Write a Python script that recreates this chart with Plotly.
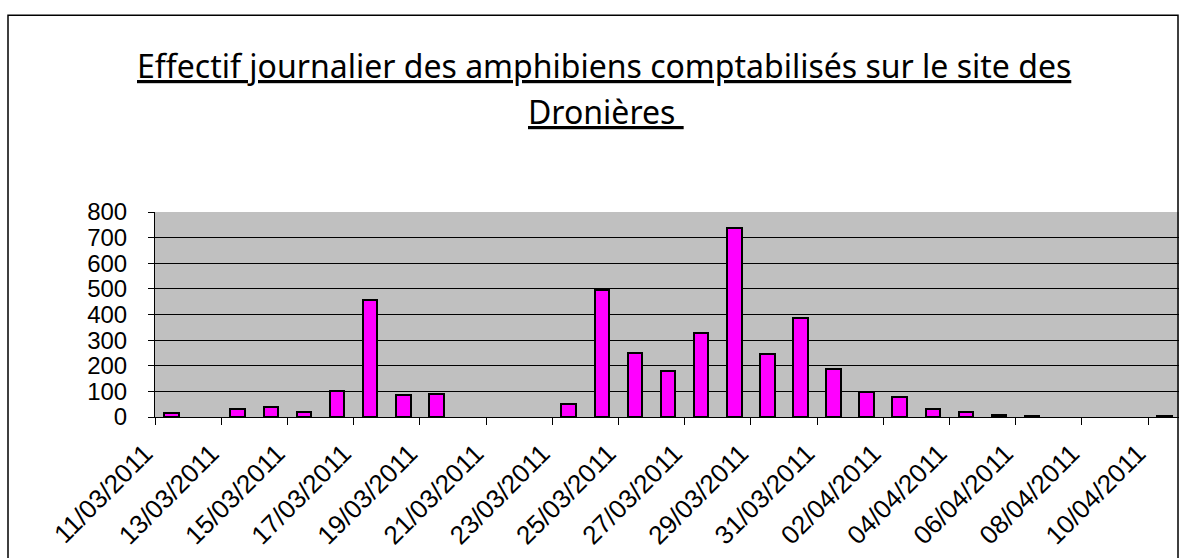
import pandas as pd
import plotly.graph_objects as go

# ---- data ----
dates = ["11/03/2011", "12/03/2011", "13/03/2011", "14/03/2011", "15/03/2011",
         "16/03/2011", "17/03/2011", "18/03/2011", "19/03/2011", "20/03/2011",
         "21/03/2011", "22/03/2011", "23/03/2011", "24/03/2011", "25/03/2011",
         "26/03/2011", "27/03/2011", "28/03/2011", "29/03/2011", "30/03/2011",
         "31/03/2011", "01/04/2011", "02/04/2011", "03/04/2011", "04/04/2011",
         "05/04/2011", "06/04/2011", "07/04/2011", "08/04/2011", "09/04/2011",
         "10/04/2011"]
effectif = [15, 0, 30, 40, 20, 103, 458, 84, 90, 0,
            0, 0, 52, 497, 249, 181, 328, 736, 245, 385,
            188, 98, 80, 33, 20, 8, 5, 0, 0, 0,
            4]
title_line1 = "Effectif journalier des amphibiens comptabilisés sur le site des"
title_line2 = "Dronières\u00a0"

# ---- build ----
x = pd.to_datetime(pd.Series(dates), format="%d/%m/%Y")
half_day = pd.Timedelta(hours=12)
tick_pos = [d - half_day for d in x[::2]]
tick_txt = dates[::2]

W, H = 1179, 558
L, R, T, B = 155, 0, 211.5, 140.7
day_px = 33.1
span_days = (W - L - R) / day_px

fig = go.Figure()
fig.add_trace(go.Bar(
    x=x, y=effectif,
    width=0.44 * 86400000,
    marker=dict(color="#FF00FF",
                line=dict(color="black", width=[2 if v > 0 else 0 for v in effectif])),
    hoverinfo="x+y",
))

fig.update_layout(
    width=W, height=H,
    margin=dict(l=L, r=R, t=T, b=B, pad=0),
    paper_bgcolor="white",
    plot_bgcolor="#C0C0C0",
    showlegend=False,
    bargap=0,
    font=dict(family="Liberation Sans, Arial, sans-serif", color="black", size=24),
)
fig.update_xaxes(
    type="date",
    range=[x.iloc[0] - half_day, x.iloc[0] - half_day + pd.Timedelta(days=span_days)],
    tickmode="array", tickvals=tick_pos, ticktext=tick_txt,
    tickangle=-45,
    ticks="outside", ticklen=7, tickcolor="black", tickwidth=1,
    showline=True, linecolor="black", linewidth=1,
    showgrid=False, zeroline=False,
    tickfont=dict(size=26),
    ticklabelstandoff=3,
    ticklabelshift=-10,
)
fig.update_yaxes(
    range=[0, 800], dtick=100, tick0=0,
    ticks="outside", ticklen=6, tickcolor="black", tickwidth=1,
    showline=True, linecolor="black", linewidth=1,
    showgrid=True, gridcolor="black", gridwidth=1,
    zeroline=False,
    tickfont=dict(size=24),
    ticklabelstandoff=16,
)

plot_w = W - L - R
plot_h = H - T - B
def px_x(p):
    return (p - L) / plot_w
def px_y(p):
    return (H - B - p) / plot_h

title_font = dict(family="Noto Sans, DejaVu Sans, sans-serif", size=32, color="black",
                  lineposition="under")
fig.add_annotation(text=title_line1, xref="paper", yref="paper",
                   x=px_x(604), y=px_y(64), xanchor="center", yanchor="middle",
                   showarrow=False, font=title_font)
fig.add_annotation(text=title_line2, xref="paper", yref="paper",
                   x=px_x(606), y=px_y(111), xanchor="center", yanchor="middle",
                   showarrow=False, font=title_font)

# outer chart border
fig.add_shape(type="rect", xref="paper", yref="paper",
              x0=px_x(8), x1=px_x(1178), y0=px_y(600), y1=px_y(14),
              line=dict(color="black", width=1.5), fillcolor="rgba(0,0,0,0)", layer="below")

fig.write_html("out.html",
               config={"displayModeBar": False},
               post_script="document.body.style.margin='0';document.body.style.overflow='hidden';")
